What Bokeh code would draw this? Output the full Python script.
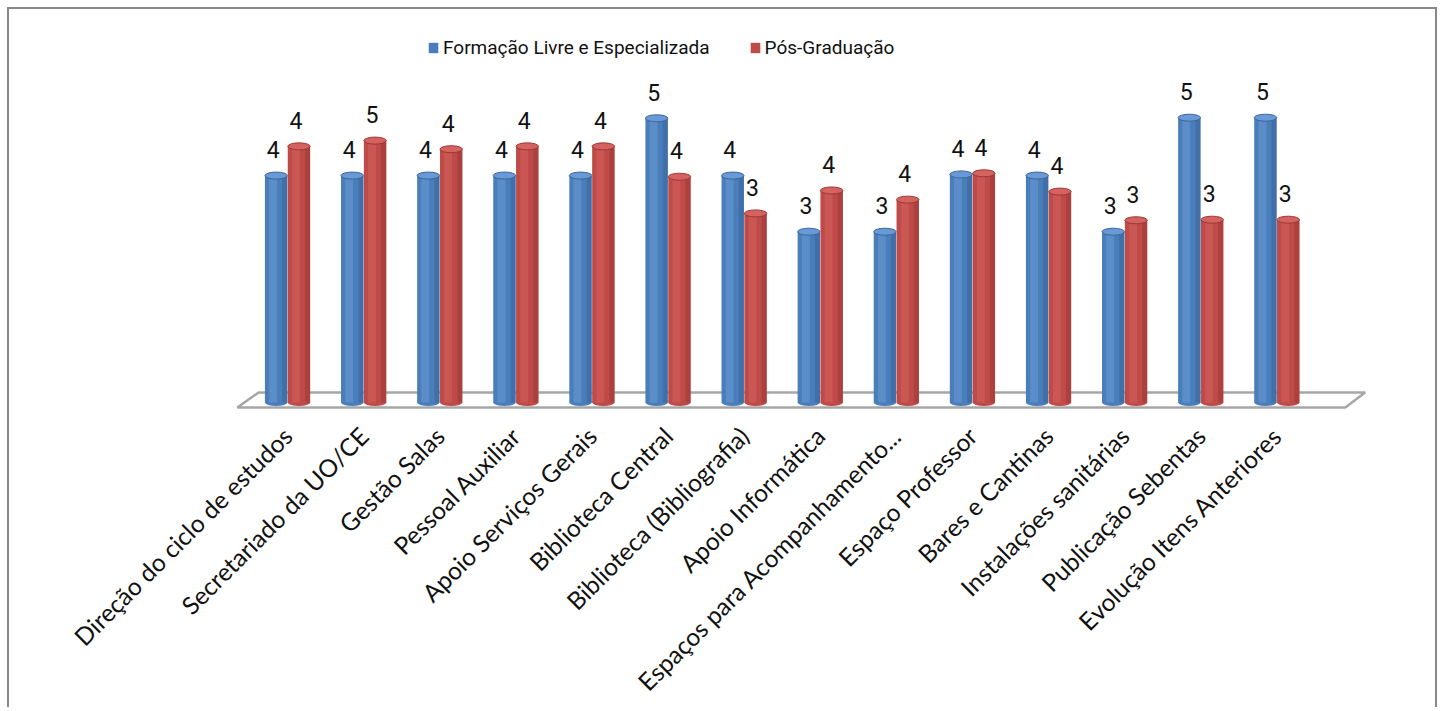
import numpy as np
from bokeh.plotting import figure
from bokeh.models import (Range1d, FixedTicker, ColumnDataSource, LabelSet, Legend,
                          LegendItem)
from bokeh.core.properties import value
from bokeh.embed import file_html
from bokeh.resources import INLINE

# ---------------- data ----------------
categories = [
    "Direção do ciclo de estudos",
    "Secretariado da UO/CE",
    "Gestão Salas",
    "Pessoal Auxiliar",
    "Apoio Serviços Gerais",
    "Biblioteca Central",
    "Biblioteca (Bibliografia)",
    "Apoio Informática",
    "Espaços para Acompanhamento...",
    "Espaço Professor",
    "Bares e Cantinas",
    "Instalações sanitárias",
    "Publicação Sebentas",
    "Evolução Itens Anteriores",
]
formacao = [3.96, 3.96, 3.96, 3.96, 3.96, 4.96, 3.96, 2.98, 2.98, 3.98, 3.96, 2.98, 4.97, 4.97]
pos_graduacao = [4.47, 4.57, 4.42, 4.47, 4.47, 3.94, 3.30, 3.70, 3.54, 4.00, 3.68, 3.18, 3.19, 3.19]
series_names = ["Formação Livre e Especializada", "Pós-Graduação"]

# ---------------- style ----------------
W, H = 1430, 700
BLUE = "#4a7ebb"
BLUE_L = "#6a9ad6"
BLUE_D = "#3a659b"
RED = "#be4b48"
RED_L = "#d6625f"
RED_D = "#9a3937"
LABEL_FONT = "Roboto"
CAT_FONT = "Lato"

n = len(categories)
idx = np.arange(n)

p = figure(width=W, height=H,
           x_range=Range1d(-1.039, 14.73), y_range=Range1d(-0.192, 6.736),
           output_backend="svg", toolbar_location=None,
           y_axis_location=None,
           min_border_left=199, min_border_right=31,
           min_border_top=7, min_border_bottom=296)
p.styles = {"border-left": "2px solid #878787", "border-top": "2px solid #878787",
            "border-right": "2px solid #878787",
            "margin-left": "7px", "margin-top": "7px"}
p.xgrid.visible = False
p.ygrid.visible = False
p.outline_line_color = None
p.background_fill_color = "white"
p.border_fill_color = "white"

# 3D floor
fx = [-0.66, 13.9, 14.16, -0.38]
fy = [-0.087, -0.087, 0.175, 0.175]
p.patch(fx, fy, fill_color="white", line_color="#a6a6a6", line_width=2.5)

bw = 0.295
off = 0.15


def cylinder(xs, vals, base, light, dark):
    src = ColumnDataSource(dict(x=xs, top=vals, zero=[0] * len(vals)))
    r = p.vbar(x="x", top="top", bottom=0, width=bw, source=src,
               fill_color=base, line_color=None)
    p.ellipse(x="x", y="zero", width=bw, height=7, height_units="screen",
              source=src, fill_color=base, line_color=None)
    # shading strips
    p.vbar(x=[xx - 0.04 for xx in xs], top=vals, bottom=0, width=bw * 0.35,
           fill_color=light, fill_alpha=0.55, line_color=None)
    p.vbar(x=[xx + bw * 0.38 for xx in xs], top=vals, bottom=0, width=bw * 0.22,
           fill_color=dark, fill_alpha=0.55, line_color=None)
    p.ellipse(x="x", y="top", width=bw, height=7, height_units="screen",
              source=src, fill_color=light, line_color=dark, line_width=1)
    return r, src


xb = [i - off for i in idx]
xr = [i + off for i in idx]
rb, sb = cylinder(xb, formacao, BLUE, BLUE_L, BLUE_D)
rr, sr = cylinder(xr, pos_graduacao, RED, RED_L, RED_D)

sb.data["lbl"] = [str(int(round(v))) for v in formacao]
sr.data["lbl"] = [str(int(round(v))) for v in pos_graduacao]
for s in (sb, sr):
    p.add_layout(LabelSet(x="x", y="top", text="lbl", source=s,
                          x_offset=-3, y_offset=26,
                          text_align="center", text_baseline="middle",
                          text_font=value(LABEL_FONT), text_font_size="23px",
                          text_color="#111111"))

# x axis with category labels
ax = p.xaxis[0]
ax.ticker = FixedTicker(ticks=list(range(n)))
ax.major_label_overrides = {i: c for i, c in enumerate(categories)}
ax.major_label_orientation = np.pi / 4
ax.major_label_text_font = CAT_FONT
ax.major_label_text_font_size = "24.5px"
ax.major_label_text_color = "#111111"
ax.axis_line_color = None
ax.major_tick_line_color = None
ax.minor_tick_line_color = None
ax.major_label_standoff = 12

legend = Legend(items=[LegendItem(label=series_names[0], renderers=[rb]),
                       LegendItem(label=series_names[1], renderers=[rr])],
                orientation="horizontal", location=(219, 354),
                label_text_font=LABEL_FONT, label_text_font_size="19px",
                label_text_color="#111111",
                glyph_width=12, glyph_height=13, label_standoff=4,
                spacing=39, padding=0, margin=0,
                border_line_alpha=0, background_fill_alpha=0)
p.add_layout(legend)

open("out.html", "w").write(file_html(p, INLINE))
